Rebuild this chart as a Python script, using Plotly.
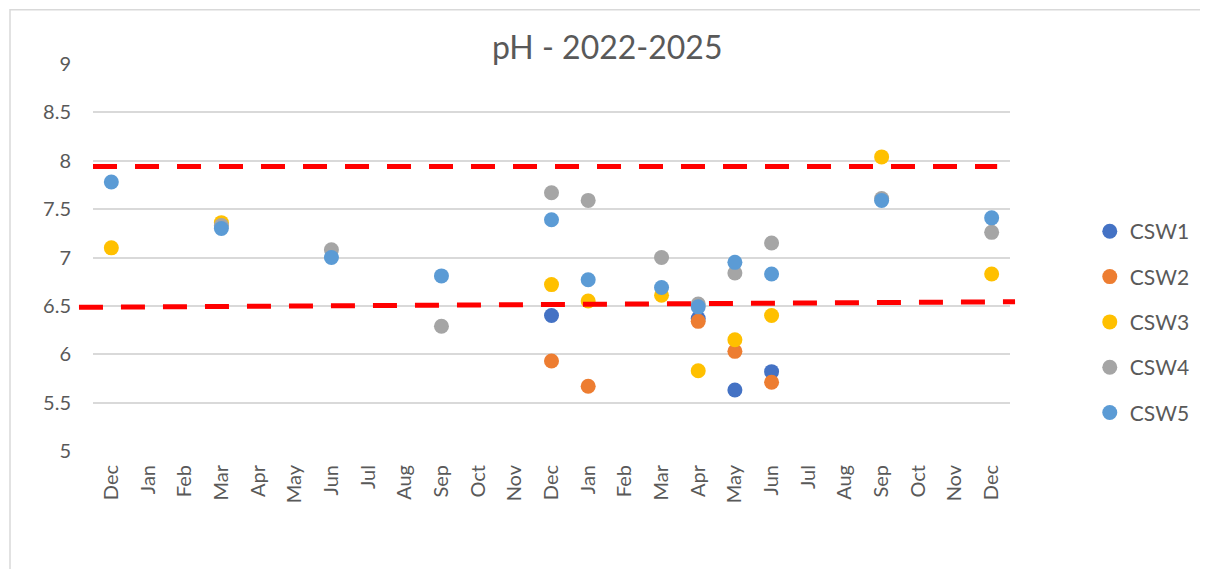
import plotly.graph_objects as go

MONTHS = ["Dec", "Jan", "Feb", "Mar", "Apr", "May", "Jun", "Jul", "Aug", "Sep", "Oct", "Nov",
          "Dec", "Jan", "Feb", "Mar", "Apr", "May", "Jun", "Jul", "Aug", "Sep", "Oct", "Nov", "Dec"]
N = None
CSW1 = [N, N, N, N, N, N, N, N, N, N, N, N, 6.40, N, N, N, 6.37, 5.63, 5.82, N, N, N, N, N, N]
CSW2 = [N, N, N, N, N, N, N, N, N, N, N, N, 5.93, 5.67, N, N, 6.34, 6.03, 5.71, N, N, N, N, N, N]
CSW3 = [7.10, N, N, 7.36, N, N, N, N, N, N, N, N, 6.72, 6.55, N, 6.61, 5.83, 6.15, 6.40, N, N, 8.04, N, N, 6.83]
CSW4 = [N, N, N, 7.33, N, N, 7.08, N, N, 6.29, N, N, 7.67, 7.59, N, 7.00, 6.52, 6.84, 7.15, N, N, 7.61, N, N, 7.26]
CSW5 = [7.78, N, N, 7.30, N, N, 7.00, N, N, 6.81, N, N, 7.39, 6.77, N, 6.69, 6.49, 6.95, 6.83, N, N, 7.59, N, N, 7.41]

SERIES = {"CSW1": CSW1, "CSW2": CSW2, "CSW3": CSW3, "CSW4": CSW4, "CSW5": CSW5}
COLORS = {"CSW1": "#4472C4", "CSW2": "#ED7D31", "CSW3": "#FFC000", "CSW4": "#A5A5A5", "CSW5": "#5B9BD5"}

UPPER_LIMIT = 7.94
LOWER_LIMIT_START = 6.485
LOWER_LIMIT_END = 6.543

Y_TICKS = [5, 5.5, 6, 6.5, 7, 7.5, 8, 8.5, 9]

FONT = "Lato"
TXT = "#595959"

x_idx = list(range(len(MONTHS)))

fig = go.Figure()
for name, vals in SERIES.items():
    fig.add_trace(go.Scatter(
        x=x_idx, y=vals, mode="markers", name=name, legendgroup=name,
        marker=dict(size=15, color=COLORS[name]),
        cliponaxis=False,
    ))

# outer chart border (left and top edges visible)
fig.add_shape(type="rect", xref="paper", yref="paper", x0=-0.0905, x1=1.4, y0=-0.6, y1=1.1405,
              line=dict(color="#D9D9D9", width=1.5), layer="below")

# reference lines
fig.add_shape(type="line", xref="paper", yref="y", x0=0.0, x1=0.986,
              y0=UPPER_LIMIT, y1=UPPER_LIMIT,
              line=dict(color="#FF0000", width=5, dash="24px,18px"))
fig.add_shape(type="line", xref="paper", yref="y", x0=-0.0153, x1=1.0055,
              y0=LOWER_LIMIT_START, y1=LOWER_LIMIT_END,
              line=dict(color="#FF0000", width=5, dash="24px,18px"))

fig.update_layout(
    width=1208, height=569,
    paper_bgcolor="white", plot_bgcolor="white",
    margin=dict(l=85, r=206, t=56, b=126),
    font=dict(family=FONT, color=TXT, size=20),
    title=dict(text="pH - 2022-2025", x=0.496, xref="container", y=0.93, yref="container",
               xanchor="center", yanchor="middle", font=dict(size=32, color=TXT, family=FONT)),
    showlegend=True,
    legend=dict(x=1.087, xanchor="left", y=0.333, yanchor="middle",
                font=dict(size=21, color=TXT, family=FONT), tracegroupgap=15,
                bgcolor="rgba(0,0,0,0)"),
    xaxis=dict(range=[-0.5, len(MONTHS) - 0.5], tickmode="array", tickvals=x_idx, ticktext=MONTHS,
               tickangle=-90, showgrid=False, zeroline=False, showline=False, ticks="",
               ticklabelstandoff=9, tickfont=dict(size=20, color=TXT, family=FONT), fixedrange=True),
    yaxis=dict(range=[5, 9], tickmode="array", tickvals=Y_TICKS, ticktext=[f"{v:g}" for v in Y_TICKS],
               showgrid=True, gridcolor="#D9D9D9", gridwidth=1.5, zeroline=False, showline=False,
               ticks="", ticklabelstandoff=21, tickfont=dict(size=20, color=TXT, family=FONT),
               fixedrange=True),
)

fig.write_html("out.html")
